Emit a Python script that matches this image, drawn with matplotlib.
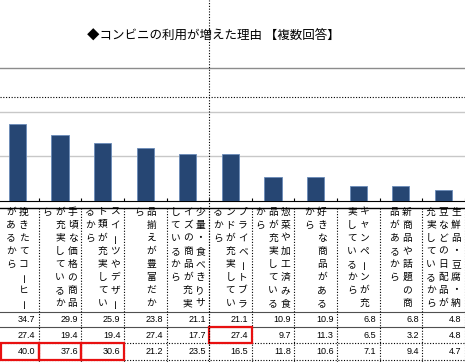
import matplotlib
matplotlib.use("Agg")
import matplotlib.pyplot as plt
from matplotlib.lines import Line2D
from matplotlib.patches import Rectangle

plt.rcParams['font.family'] = ['Noto Sans CJK JP', 'DejaVu Sans']

title = "◆コンビニの利用が増えた理由 【複数回答】"
reasons = [
    "挽きたてコーヒーがあるから",
    "手頃な価格の商品が充実しているから",
    "スイーツやデザート類が充実しているから",
    "品揃えが豊富だから",
    "少量・食べきりサイズの商品が充実しているから",
    "プライベートブランドが充実しているから",
    "惣菜や加工済み食品が充実しているから",
    "好きな商品があるから",
    "キャンペーンが充実しているから",
    "新商品や話題の商品があるから",
    "生鮮品・豆腐・納豆などの日配品が充実しているから",
]
row_1 = [34.7, 29.9, 25.9, 23.8, 21.1, 21.1, 10.9, 10.9, 6.8, 6.8, 4.8]
row_2 = [27.4, 19.4, 19.4, 27.4, 17.7, 27.4, 9.7, 11.3, 6.5, 3.2, 4.8]
row_3 = [40.0, 37.6, 30.6, 21.2, 23.5, 16.5, 11.8, 10.6, 7.1, 9.4, 4.7]
# cells with a red frame: (row, column)
highlight = [(2, 0), (2, 1), (2, 2), (1, 5)]
y_grid = [20, 40, 60]

W, H = 465, 362
fig = plt.figure(figsize=(W / 100, H / 100), dpi=100)


def fx(px):
    return px / W


def fy(py):
    return 1 - py / H


n = len(reasons)
left_px, right_px = -3.9, 464.7
base_px, top_px = 200.7, 68

# chart
ax = fig.add_axes([fx(left_px), fy(base_px), (right_px - left_px) / W, (base_px - top_px) / H])
ax.patch.set_visible(False)
ax.bar(range(n), row_1, width=0.4, color='#264673', edgecolor='#6a8bb8', linewidth=0.6, zorder=3)
ax.set_xlim(-0.5, n - 0.5)
ax.set_ylim(0, 60)
for v in y_grid:
    ax.axhline(v, color='#c8c8c8' if v < 60 else '#8c8c8c', lw=1, zorder=1, clip_on=False)
ax.set_yticks([])
ax.set_xticks([i + 0.5 for i in range(-1, n)])
ax.set_xticklabels([])
ax.tick_params(axis='x', direction='in', length=2.5, width=0.8, color='black')
for s in ['top', 'left', 'right']:
    ax.spines[s].set_visible(False)
ax.spines['bottom'].set_linewidth(0.8)

fig.text(fx(87), fy(35), title, fontsize=9, va='center', ha='left')

# table below the chart, y in pixels from the top
tab_top = 207.5
tax = fig.add_axes([fx(left_px), 0, (right_px - left_px) / W, (H - tab_top) / H])
tax.set_xlim(-0.5, n - 0.5)
tax.set_ylim(H, tab_top)
tax.axis('off')

bounds = [312, 327, 343, 359.5]
tax.axhline(tab_top, color='black', lw=1, clip_on=False)
tax.axhline(bounds[0], color='#505050', lw=0.8)
tax.axhline(bounds[1], color='#505050', lw=0.8)
tax.axhline(bounds[2], color='black', lw=0.8, linestyle=(0, (1, 1.5)))
tax.axhline(bounds[3], color='black', lw=0.8, linestyle=(0, (1, 1.5)))
for k in range(n + 1):
    tax.plot([k - 0.5, k - 0.5], [tab_top, H], color='black', lw=0.8,
             linestyle=(0, (1, 1.5)), clip_on=False)

# vertical header labels, 8 characters per column, right to left
dx = 12.5 / 42.6
for i, label in enumerate(reasons):
    chunks = [label[j:j + 8] for j in range(0, len(label), 8)]
    nc = len(chunks)
    for j, chunk in enumerate(chunks):
        xc = i + ((nc - 1) / 2 - j) * dx
        for r, ch in enumerate(chunk):
            tax.text(xc, 211.5 + r * 13.1, ch, ha='center', va='center', fontsize=7,
                     rotation=90 if ch == 'ー' else 0)

centers = [319.5, 335, 351]
for r, vals in enumerate([row_1, row_2, row_3]):
    for i, v in enumerate(vals):
        tax.text(i + 0.5 - 0.08, centers[r], f"{v:.1f}", ha='right', va='center',
                 fontsize=6.5, family='Liberation Sans')

for r, c in highlight:
    x0 = c - 0.5
    if c == 0:
        x0 += 4.7 / 42.6
    tax.add_patch(Rectangle((x0, bounds[r]), c + 0.5 - x0, bounds[r + 1] - bounds[r],
                            fill=False, ec='#e81010', lw=1.6, clip_on=False, zorder=5))

# page break lines
fig.add_artist(Line2D([0, 1], [fy(97), fy(97)], transform=fig.transFigure,
                      color='black', lw=0.8, linestyle=(0, (1, 1.5))))
fig.add_artist(Line2D([fx(209), fx(209)], [0, 1], transform=fig.transFigure,
                      color='black', lw=0.8, linestyle=(0, (1, 1.5))))

fig.savefig("out.png", dpi=100)
